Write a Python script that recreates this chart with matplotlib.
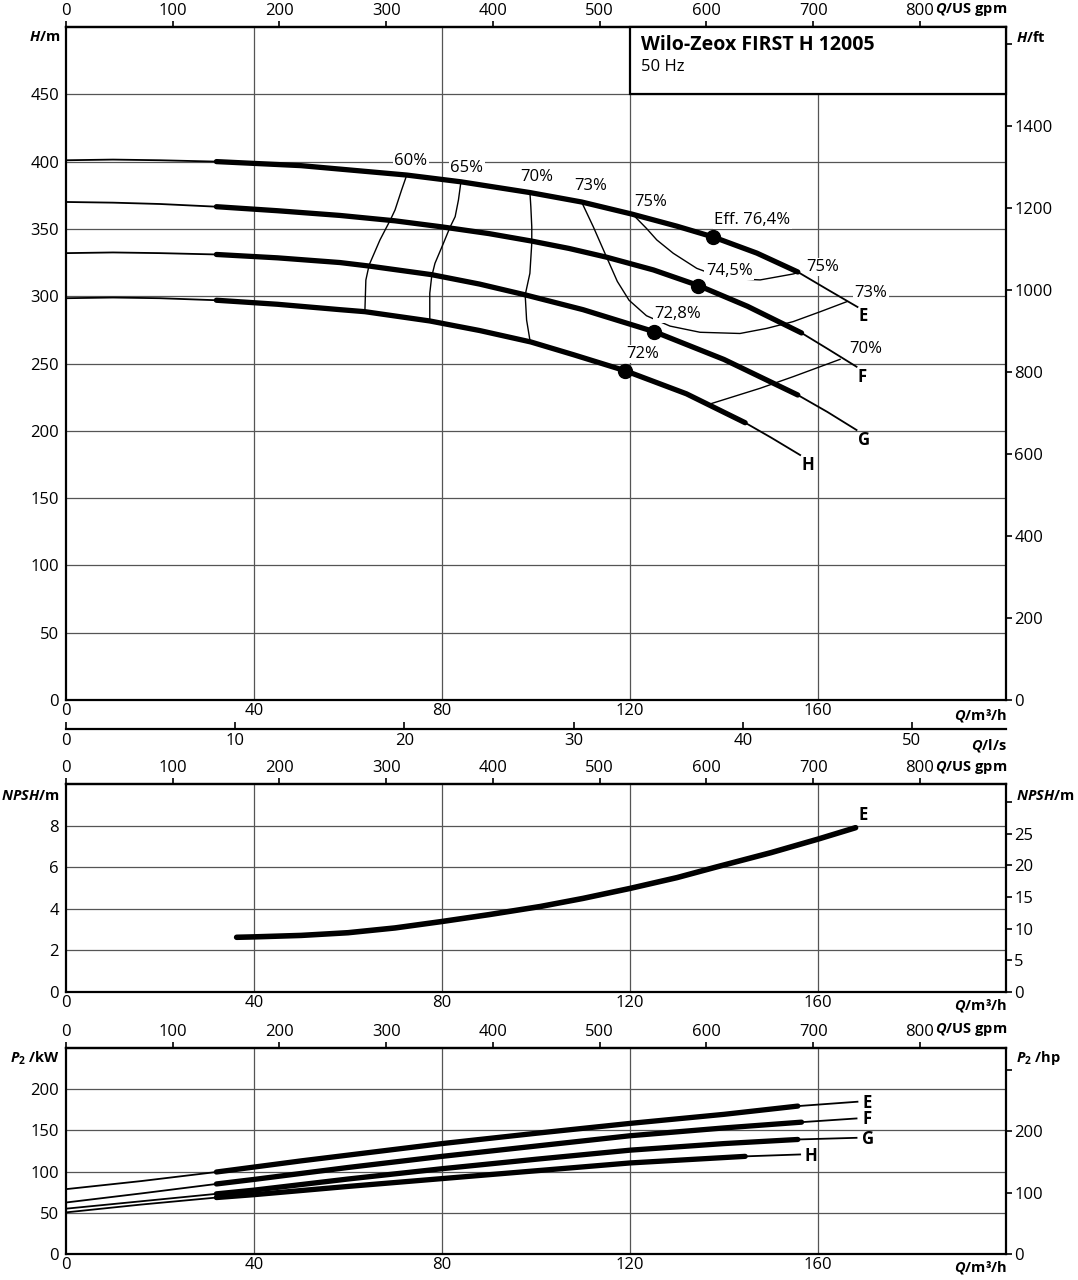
"""Pump curve sheet: Wilo-Zeox FIRST H 12005, 50 Hz."""

import numpy as np
import matplotlib
matplotlib.use("Agg")
import matplotlib.pyplot as plt
import matplotlib.patches as mpatches

plt.rcParams["font.family"] = ["Open Sans", "DejaVu Sans"]
plt.rcParams["mathtext.fontset"] = "custom"
plt.rcParams["mathtext.it"] = "Open Sans:italic:bold"
plt.rcParams["mathtext.rm"] = "Open Sans:bold"
plt.rcParams["mathtext.bf"] = "Open Sans:bold"

# ---- data (Q in m3/h) ----
head_E_q = [0, 10, 20, 32, 50, 72.5, 84, 98.7, 109.7, 120.4, 130, 137.7, 147, 155.7, 162, 168.4]
head_E_h = [401, 401.5, 401, 400, 397, 390, 385, 377, 370, 361, 352, 344, 332, 318, 305, 292]
head_F_q = [0, 10, 20, 32, 45, 58.3, 70, 80, 90, 99, 107, 115, 125, 134.5, 145, 156.5, 162, 168.2]
head_F_h = [370, 369.5, 368.5, 366.5, 363.5, 360, 356, 351.5, 346.5, 341, 335.5, 329, 319.5, 308, 292.5, 272.7, 261, 247.6]
head_G_q = [0, 10, 20, 32, 45, 58.3, 64.5, 77.8, 88, 97.7, 110, 125.2, 140, 155.7, 162, 168.2]
head_G_h = [332, 332.5, 332, 331, 328.5, 325, 322.4, 316, 309, 301, 290, 273.6, 253, 226.6, 214, 200.6]
head_H_q = [0, 10, 20, 32, 45, 58.3, 63.6, 77.4, 88, 98.9, 108, 119, 132, 144.5, 150, 156.2]
head_H_h = [298.5, 299, 298.5, 297, 294, 290, 288.5, 281.6, 274.5, 266, 256.5, 244.6, 227.5, 206, 195, 182]
head_thick = {"E": (32, 155.7), "F": (32, 156.5), "G": (32, 155.7), "H": (32, 144.5)}

bep_q = [137.7, 134.5, 125.2, 119]
bep_h = [344, 307.6, 273.6, 244.6]

# iso-efficiency lines
eff60_q = [72.5, 71.4, 70.0, 69.0, 66.8, 64.5, 63.8, 63.6]
eff60_h = [390.0, 378.9, 364.0, 356.6, 341.8, 323.2, 312.0, 289.7]
eff65_q = [84.0, 83.5, 82.8, 81.7, 80.3, 78.5, 77.8, 77.4, 77.4]
eff65_h = [384.3, 371.5, 359.1, 351.2, 339.3, 324.4, 314.5, 302.2, 282.3]
eff70_q = [98.7, 98.9, 99.1, 99.1, 98.7, 97.7, 98.0, 98.7]
eff70_h = [377.6, 366.5, 351.6, 339.3, 317.0, 300.9, 282.3, 267.5]
eff73_q = [109.7, 112.2, 115.0, 117.3, 119.8, 123.5, 128.5, 134.9, 143.4, 149.1, 154.7, 160.5, 166.1]
eff73_h = [370.0, 351.5, 329.2, 311.0, 297.0, 285.5, 277.8, 273.2, 272.3, 276.1, 281.1, 288.5, 295.9]
eff75_q = [120.5, 123.5, 125.7, 129.2, 134.2, 139.9, 147.7, 154.7, 155.7]
eff75_h = [361.1, 350.4, 341.8, 331.9, 320.7, 313.3, 312.1, 316.5, 317.5]
eff70r_q = [137.0, 147.7, 154.7, 164.7]
eff70r_h = [219.9, 231.6, 240.2, 253.1]

eff_labels = ["60%", "65%", "70%", "73%", "75%", "Eff. 76,4%", "74,5%", "75%", "73%", "72,8%", "72%", "70%"]
eff_label_q = [73.4, 85.3, 100.2, 111.7, 124.3, 146.0, 141.1, 160.9, 171.3, 130.2, 122.8, 170.2]
eff_label_h = [400.4, 395.2, 388.6, 381.9, 370.0, 356.6, 318.7, 321.7, 302.4, 286.8, 257.0, 260.8]

npsh_q = [36.3, 40, 50, 60, 70, 80, 90, 100.9, 110, 120, 130, 138.2, 150, 160, 168]
npsh_v = [2.63, 2.65, 2.72, 2.85, 3.08, 3.39, 3.72, 4.11, 4.5, 4.98, 5.5, 6.0, 6.7, 7.35, 7.9]

pow_E_q = [0, 16, 32, 40, 50, 60, 80, 100, 120, 140, 155.7, 168.4]
pow_E_p = [78.7, 88.5, 99.5, 105.5, 113, 120, 134, 146.5, 158.5, 169.5, 179.5, 184.8]
pow_F_q = [0, 16, 32, 40, 60, 80, 100, 120, 140, 156.5, 168.2]
pow_F_p = [62.5, 73.5, 85, 90.5, 105, 118.5, 131, 143.5, 153, 160, 164.5]
pow_G_q = [0, 16, 32, 40, 60, 80, 100, 120, 140, 155.7, 168.2]
pow_G_p = [55, 64, 73, 77.5, 91, 103.5, 115, 126, 134, 139, 141]
pow_H_q = [0, 16, 32, 40, 60, 80, 100, 120, 144.5, 156.2]
pow_H_p = [50.5, 60, 68.5, 72, 82, 91.5, 101, 110.5, 118.5, 120.8]

q_ticks = [0, 40, 80, 120, 160]
gpm_ticks = [0, 100, 200, 300, 400, 500, 600, 700, 800]
ls_ticks = [0, 10, 20, 30, 40, 50]

GPM = 4.40287   # US gpm per m3/h
FT = 3.28084    # ft per m
HP = 0.745700   # kW per hp

W, H = 1078, 1280
fig = plt.figure(figsize=(W / 100, H / 100), dpi=100)
FS = 12     # tick labels, curve notes
LFS = 10.5  # bold unit labels


def px_axes(left, top, right, bottom):
    return fig.add_axes([left / W, 1 - bottom / H, (right - left) / W, (bottom - top) / H])


def px_label(x, y, s, ha):
    fig.text(x / W, 1 - y / H, s, fontsize=LFS, fontweight="bold", ha=ha, va="center")


def style_panel(ax, ymax, yticks):
    ax.set_xlim(0, 200)
    ax.set_ylim(0, ymax)
    ax.set_xticks(q_ticks)
    ax.set_yticks(yticks)
    ax.tick_params(axis="both", length=0, labelsize=FS)
    ax.tick_params(axis="x", pad=2)
    ax.tick_params(axis="y", pad=5)
    for s in ax.spines.values():
        s.set_linewidth(1.6)
    for q in q_ticks[1:]:
        ax.axvline(q, color="#555555", lw=0.9, zorder=0.5)
    for y in yticks[1:]:
        ax.axhline(y, color="#555555", lw=0.9, zorder=0.5)
    top = ax.secondary_xaxis("top", functions=(lambda q: q * GPM, lambda g: g / GPM))
    top.set_xticks(gpm_ticks)
    top.tick_params(direction="out", length=4, width=1.2, pad=1.5, labelsize=FS)
    top.spines["top"].set_linewidth(1.6)


def right_axis(ax, ymax_conv, ticks, blank_tick):
    r = ax.twinx()
    r.set_ylim(0, ymax_conv)
    r.set_yticks(ticks + [blank_tick])
    r.set_yticklabels([str(t) for t in ticks] + [""])
    r.tick_params(direction="out", length=4, width=1.2, pad=2, labelsize=FS)
    for s in r.spines.values():
        s.set_visible(False)
    return r


def curve(ax, q, v, q0, q1):
    q = np.asarray(q, float)
    v = np.asarray(v, float)
    ax.plot(q, v, color="k", lw=1.3, solid_joinstyle="round", zorder=4)
    m = (q >= q0 - 1e-9) & (q <= q1 + 1e-9)
    ax.plot(q[m], v[m], color="k", lw=3.8, solid_capstyle="round",
            solid_joinstyle="round", zorder=4)


# ---------------- head panel ----------------
ax1 = px_axes(66, 27, 1006, 700)
style_panel(ax1, 500, [0, 50, 100, 150, 200, 250, 300, 350, 400, 450])
right_axis(ax1, 500 * FT, [0, 200, 400, 600, 800, 1000, 1200, 1400], 1600)

ls = ax1.secondary_xaxis(-29 / 673, functions=(lambda q: q / 3.6, lambda l: l * 3.6))
ls.set_xticks(ls_ticks)
ls.tick_params(direction="in", length=5, width=1.2, pad=3, labelsize=FS)
ls.spines["bottom"].set_linewidth(1.6)

curve(ax1, head_E_q, head_E_h, *head_thick["E"])
curve(ax1, head_F_q, head_F_h, *head_thick["F"])
curve(ax1, head_G_q, head_G_h, *head_thick["G"])
curve(ax1, head_H_q, head_H_h, *head_thick["H"])
ax1.plot(bep_q, bep_h, "o", color="k", ms=10, zorder=5)

for q, h in [(eff60_q, eff60_h), (eff65_q, eff65_h), (eff70_q, eff70_h),
             (eff73_q, eff73_h), (eff75_q, eff75_h), (eff70r_q, eff70r_h)]:
    ax1.plot(q, h, color="k", lw=1.0, solid_joinstyle="round", zorder=2)

for s, q, h in zip(eff_labels, eff_label_q, eff_label_h):
    ax1.text(q, h, s, fontsize=FS, ha="center", va="center", zorder=2.5,
             bbox=dict(boxstyle="square,pad=0.08", fc="white", ec="none"))

for s, q, h in [("E", 169.6, 285.3), ("F", 169.4, 240.0), ("G", 169.8, 193.2), ("H", 157.9, 174.6)]:
    ax1.text(q, h, s, fontsize=FS, fontweight="bold", ha="center", va="center", zorder=6)

ax1.add_patch(mpatches.Rectangle((120, 450), 80, 50, fc="white", ec="k", lw=1.6, zorder=3, clip_on=False))
ax1.text(122.3, 486.5, "Wilo-Zeox FIRST H 12005", fontsize=14, fontweight="bold", va="center", zorder=6)
ax1.text(122.3, 470.0, "50 Hz", fontsize=FS, va="center", zorder=6)

px_label(60, 37, "$H$/m", "right")
px_label(1016, 37, "$H$/ft", "left")
px_label(1007, 10, "$Q$/US gpm", "right")
px_label(1007, 715, "$Q$/m³/h", "right")
px_label(1007, 745, "$Q$/l/s", "right")

# ---------------- NPSH panel ----------------
ax2 = px_axes(66, 784, 1006, 992)
style_panel(ax2, 10, [0, 2, 4, 6, 8])
right_axis(ax2, 10 * FT, [0, 5, 10, 15, 20, 25], 30)
ax2.plot(npsh_q, npsh_v, color="k", lw=4, solid_capstyle="round", solid_joinstyle="round", zorder=4)
ax2.text(169.6, 8.53, "E", fontsize=FS, fontweight="bold", ha="center", va="center")

px_label(60, 796, "$NPSH$/m", "right")
px_label(1016, 796, "$NPSH$/m", "left")
px_label(1007, 768, "$Q$/US gpm", "right")
px_label(1007, 1005, "$Q$/m³/h", "right")

# ---------------- power panel ----------------
ax3 = px_axes(66, 1048, 1006, 1254)
style_panel(ax3, 250, [0, 50, 100, 150, 200])
right_axis(ax3, 250 / HP, [0, 100, 200], 300)
curve(ax3, pow_E_q, pow_E_p, 32, 155.7)
curve(ax3, pow_F_q, pow_F_p, 32, 156.5)
curve(ax3, pow_G_q, pow_G_p, 32, 155.7)
curve(ax3, pow_H_q, pow_H_p, 32, 144.5)
for s, q, p in [("E", 169.4, 183.5), ("F", 169.4, 164.2), ("G", 169.4, 140.1), ("H", 157.2, 118.4)]:
    ax3.text(q, p, s, fontsize=FS, fontweight="bold", ha="left", va="center")

px_label(60, 1058, "$P_2$ /kW", "right")
px_label(1016, 1058, "$P_2$ /hp", "left")
px_label(1007, 1030, "$Q$/US gpm", "right")
px_label(1007, 1268, "$Q$/m³/h", "right")

fig.savefig("out.png", dpi=100)
